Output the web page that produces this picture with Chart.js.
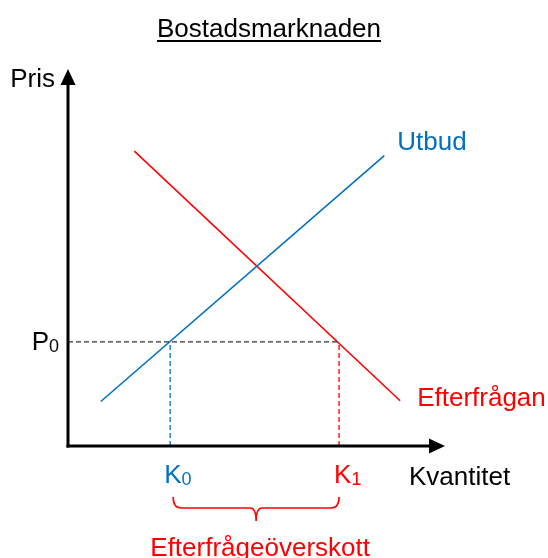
<!DOCTYPE html>
<html>
<head>
<meta charset="utf-8">
<script src="https://cdn.jsdelivr.net/npm/chart.js@4.4.1/dist/chart.umd.min.js"></script>
<style>
  html, body { margin: 0; padding: 0; background: #ffffff; }
  #wrap { width: 548px; height: 558px; position: relative; }
</style>
</head>
<body>
<div id="wrap"><canvas id="c" width="548" height="558"></canvas></div>
<script>
// ---- Data ----
const titleText = "Bostadsmarknaden";
const yAxisLabel = "Pris";
const xAxisLabel = "Kvantitet";
const supplyLabel = "Utbud";
const demandLabel = "Efterfrågan";
const surplusLabel = "Efterfrågeöverskott";

const supplyQ = [8.7, 83.9];
const supplyP = [11.8, 77.0];
const demandQ = [17.6, 88.1];
const demandP = [78.2, 12.0];

const priceTickValues = [27.6];
const priceTickLabels = [["P", "0"]];
const quantityTickValues = [27.1, 71.9];
const quantityTickLabels = [["K", "0"], ["K", "1"]];

const BLUE = "#0070C0";
const RED = "#FF0000";
const GREY = "#333333";
const FONT = "'Liberation Sans', Arial, sans-serif";

const P0 = priceTickValues[0];
const K0 = quantityTickValues[0];
const K1 = quantityTickValues[1];

function pts(xs, ys) { return xs.map((x, i) => ({ x: x, y: ys[i] })); }

const datasets = [
  { label: "P0-linje", data: pts([0, K1], [P0, P0]), borderColor: GREY, borderWidth: 1.3, borderDash: [5, 3] },
  { label: "K0-linje", data: pts([K0, K0], [0, P0]), borderColor: BLUE, borderWidth: 1.3, borderDash: [5, 3] },
  { label: "K1-linje", data: pts([K1, K1], [0, P0]), borderColor: RED, borderWidth: 1.3, borderDash: [5, 3] },
  { label: supplyLabel, data: pts(supplyQ, supplyP), borderColor: BLUE, borderWidth: 1.6 },
  { label: demandLabel, data: pts(demandQ, demandP), borderColor: RED, borderWidth: 1.6 }
].map(d => Object.assign({ showLine: true, pointRadius: 0, pointHoverRadius: 0, fill: false, tension: 0 }, d));

function subText(ctx, parts, x, y, size, color, align) {
  ctx.fillStyle = color;
  ctx.textBaseline = "alphabetic";
  ctx.textAlign = "left";
  ctx.font = size + "px " + FONT;
  const w1 = ctx.measureText(parts[0]).width;
  const subSize = Math.round(size * 0.68);
  ctx.font = subSize + "px " + FONT;
  const w2 = ctx.measureText(parts[1]).width;
  let left = x;
  if (align === "right") left = x - w1 - w2;
  if (align === "center") left = x - (w1 + w2) / 2;
  ctx.font = size + "px " + FONT;
  ctx.fillText(parts[0], left, y);
  ctx.font = subSize + "px " + FONT;
  ctx.fillText(parts[1], left + w1, y + 2);
}

const overlay = {
  id: "overlay",
  afterDatasetsDraw(chart) {
    const ctx = chart.ctx;
    const xs = chart.scales.x, ys = chart.scales.y;
    const ox = xs.getPixelForValue(0), oy = ys.getPixelForValue(0);
    const xEnd = xs.getPixelForValue(100), yEnd = ys.getPixelForValue(100);
    ctx.save();
    // axes
    ctx.strokeStyle = "#000"; ctx.fillStyle = "#000"; ctx.lineWidth = 3; ctx.lineCap = "butt";
    ctx.beginPath(); ctx.moveTo(ox, oy + 1.5); ctx.lineTo(ox, yEnd + 14); ctx.stroke();
    ctx.beginPath(); ctx.moveTo(ox - 1.5, oy); ctx.lineTo(xEnd - 14, oy); ctx.stroke();
    ctx.beginPath(); ctx.moveTo(ox, yEnd); ctx.lineTo(ox - 7.5, yEnd + 16); ctx.lineTo(ox + 7.5, yEnd + 16); ctx.closePath(); ctx.fill();
    ctx.beginPath(); ctx.moveTo(xEnd, oy); ctx.lineTo(xEnd - 16, oy - 7.5); ctx.lineTo(xEnd - 16, oy + 7.5); ctx.closePath(); ctx.fill();

    // title
    ctx.font = "26px " + FONT; ctx.textAlign = "center"; ctx.textBaseline = "alphabetic"; ctx.fillStyle = "#000";
    const tx = 269, ty = 37;
    ctx.fillText(titleText, tx, ty);
    const tw = ctx.measureText(titleText).width;
    ctx.lineWidth = 2; ctx.beginPath(); ctx.moveTo(tx - tw / 2, ty + 4); ctx.lineTo(tx + tw / 2, ty + 4); ctx.stroke();

    // axis labels
    ctx.font = "26px " + FONT;
    ctx.textAlign = "right"; ctx.fillText(yAxisLabel, ox - 13, yEnd + 18);
    ctx.textAlign = "left"; ctx.fillText(xAxisLabel, xEnd - 36, oy + 39);

    // curve labels
    ctx.fillStyle = BLUE; ctx.fillText(supplyLabel, xs.getPixelForValue(supplyQ[1]) + 13, ys.getPixelForValue(supplyP[1]) - 6);
    ctx.fillStyle = RED; ctx.fillText(demandLabel, xs.getPixelForValue(demandQ[1]) + 17, ys.getPixelForValue(demandP[1]) + 5);

    // tick labels
    subText(ctx, priceTickLabels[0], ox - 9, ys.getPixelForValue(P0) + 8, 26, "#000", "right");
    subText(ctx, quantityTickLabels[0], xs.getPixelForValue(K0) - 6, oy + 37, 26, BLUE, "left");
    subText(ctx, quantityTickLabels[1], xs.getPixelForValue(K1) - 5, oy + 37, 26, RED, "left");

    // brace
    const bx1 = xs.getPixelForValue(K0) + 3, bx2 = xs.getPixelForValue(K1);
    const bc = (bx1 + bx2) / 2, bTop = oy + 51, bMid = oy + 62, bTip = oy + 75;
    ctx.strokeStyle = RED; ctx.lineWidth = 1.6;
    ctx.beginPath();
    ctx.moveTo(bx1, bTop);
    ctx.quadraticCurveTo(bx1, bMid, bx1 + 8, bMid);
    ctx.lineTo(bc - 6, bMid);
    ctx.quadraticCurveTo(bc, bMid, bc, bTip);
    ctx.moveTo(bx2, bTop);
    ctx.quadraticCurveTo(bx2, bMid, bx2 - 8, bMid);
    ctx.lineTo(bc + 6, bMid);
    ctx.quadraticCurveTo(bc, bMid, bc, bTip);
    ctx.stroke();

    ctx.fillStyle = RED; ctx.textAlign = "center"; ctx.font = "26px " + FONT;
    ctx.fillText(surplusLabel, bc + 4, oy + 110);
    ctx.restore();
  }
};

new Chart(document.getElementById("c"), {
  type: "scatter",
  data: { datasets: datasets },
  options: {
    responsive: false,
    animation: false,
    events: [],
    layout: { padding: { left: 68, top: 69, right: 103, bottom: 112 } },
    plugins: { legend: { display: false }, tooltip: { enabled: false }, title: { display: false } },
    scales: {
      x: { type: "linear", min: 0, max: 100, display: false },
      y: { type: "linear", min: 0, max: 100, display: false }
    }
  },
  plugins: [overlay]
});
</script>
</body>
</html>
